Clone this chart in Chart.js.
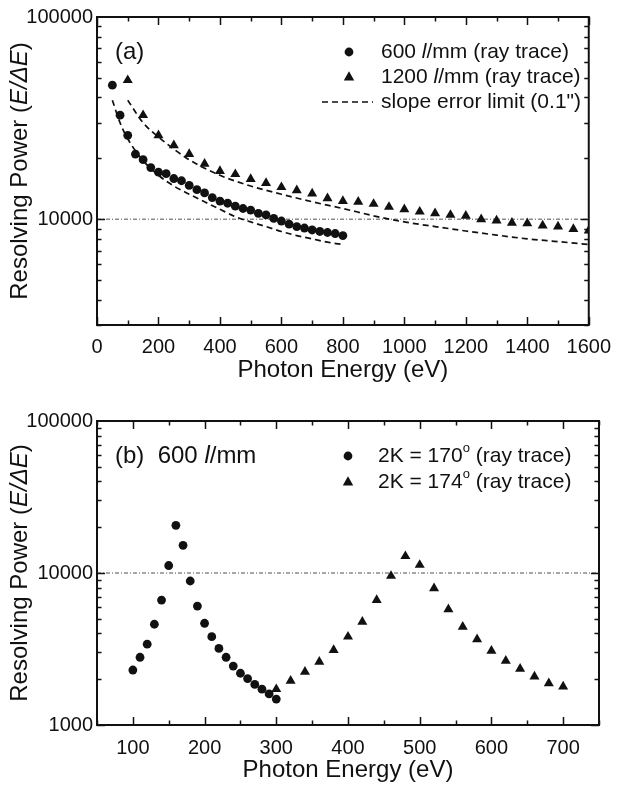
<!DOCTYPE html>
<html>
<head>
<meta charset="utf-8">
<script src="https://cdn.jsdelivr.net/npm/chart.js@4.4.1/dist/chart.umd.min.js"></script>
<style>
  html, body { margin: 0; padding: 0; background: #fff; }
  canvas { position: absolute; left: 0; }
  #chartA { top: 0; }
  #chartB { top: 395px; }
</style>
</head>
<body>
<canvas id="chartA" width="621" height="395"></canvas>
<canvas id="chartB" width="621" height="394"></canvas>
<script>
// ---- panel (a) ----
const energy600 = [50, 75, 100, 125, 150, 175, 200, 225, 250, 275, 300, 325, 350, 375, 400, 425,
                   450, 475, 500, 525, 550, 575, 600, 625, 650, 675, 700, 725, 750, 775, 800];
const power600 = [46000, 32700, 26000, 21000, 19700, 18000, 17100, 16800, 15900, 15500, 14700, 14000,
                  13500, 12800, 12300, 12000, 11600, 11300, 11100, 10700, 10500, 10100, 9800, 9450,
                  9200, 9050, 8850, 8700, 8600, 8500, 8300];
const energy1200 = [100, 150, 200, 250, 300, 350, 400, 450, 500, 550, 600, 650, 700, 750, 800, 850,
                    900, 950, 1000, 1050, 1100, 1150, 1200, 1250, 1300, 1350, 1400, 1450, 1500, 1550, 1600];
const power1200 = [48700, 32700, 26000, 23200, 21000, 18800, 17300, 16700, 15800, 15100, 14400, 13900,
                   13400, 12700, 12300, 12200, 11900, 11500, 11200, 10900, 10700, 10500, 10400, 10000,
                   9850, 9600, 9550, 9300, 9200, 8950, 8800];
const limitEnergy600 = [50, 75, 100, 150, 200, 250, 300, 350, 400, 450, 500, 550, 600, 650, 700, 750, 800];
const limit600 = [38800, 30000, 25000, 19500, 16500, 14600, 13300, 12200, 11200, 10300, 9700, 9200,
                  8700, 8300, 8000, 7700, 7500];
const limitEnergy1200 = [100, 150, 200, 300, 400, 500, 600, 700, 800, 900, 1000, 1100, 1200, 1300, 1400, 1500, 1600];
const limit1200 = [38800, 30000, 25500, 19700, 16500, 14600, 13300, 12200, 11300, 10400, 9700, 9200,
                   8750, 8350, 8000, 7750, 7500];
const xTicksA = [0, 200, 400, 600, 800, 1000, 1200, 1400, 1600];
const yTicksA = [10000, 100000];

// ---- panel (b) ----
const energy170 = [100, 110, 120, 130, 140, 150, 160, 170, 180, 190, 200, 210, 220, 230, 240, 250,
                   260, 270, 280, 290, 300];
const power170 = [2300, 2790, 3400, 4600, 6640, 11200, 20600, 15200, 8860, 6060, 4670, 3810, 3190,
                  2790, 2440, 2190, 2020, 1850, 1720, 1600, 1480];
const energy174 = [300, 320, 340, 360, 380, 400, 420, 440, 460, 480, 500, 520, 540, 560, 580, 600,
                   620, 640, 660, 680, 700];
const power174 = [1720, 1950, 2240, 2600, 3110, 3810, 4780, 6640, 9560, 12900, 11300, 7930, 5770,
                  4430, 3660, 3080, 2640, 2340, 2080, 1880, 1790];
const xTicksB = [100, 200, 300, 400, 500, 600, 700];
const yTicksB = [1000, 10000, 100000];

const FONT = '"Liberation Sans", Arial, Helvetica, sans-serif';
const INK = '#111';

function pts(xs, ys) {
  return xs.map((x, i) => ({ x: x, y: ys[i] }));
}

// write a run of [text, style] pieces; style: '' | 'i' | 'sup'
function drawRich(ctx, parts, x, y, size) {
  let cx = x;
  parts.forEach(([t, st]) => {
    if (st === 'sup') {
      ctx.font = Math.round(size * 0.6) + 'px ' + FONT;
      ctx.fillText(t, cx, y - size * 0.38);
    } else {
      ctx.font = (st === 'i' ? 'italic ' : '') + size + 'px ' + FONT;
      ctx.fillText(t, cx, y);
    }
    cx += ctx.measureText(t).width;
  });
  return cx - x;
}

function richWidth(ctx, parts, size) {
  let w = 0;
  parts.forEach(([t, st]) => {
    if (st === 'sup') ctx.font = Math.round(size * 0.6) + 'px ' + FONT;
    else ctx.font = (st === 'i' ? 'italic ' : '') + size + 'px ' + FONT;
    w += ctx.measureText(t).width;
  });
  return w;
}

function framePlugin(cfg) {
  return {
    id: 'frame',
    afterDraw(chart) {
      const ctx = chart.ctx;
      const a = chart.chartArea;
      const xs = chart.scales.x, ys = chart.scales.y;
      ctx.save();
      ctx.strokeStyle = INK;
      ctx.fillStyle = INK;

      // inward ticks, all four sides
      ctx.lineWidth = 1.5;
      ctx.beginPath();
      for (let v = xs.min; v <= xs.max + 1e-6; v += cfg.xMinor) {
        const px = Math.round(xs.getPixelForValue(v)) + 0.5;
        const len = Math.abs(v % cfg.xMajor) < 1e-6 ? 8 : 4.5;
        ctx.moveTo(px, a.bottom); ctx.lineTo(px, a.bottom - len);
        ctx.moveTo(px, a.top); ctx.lineTo(px, a.top + len);
      }
      for (let d = 1000; d < ys.max; d *= 10) {
        for (let k = 1; k <= 9; k++) {
          const v = d * k;
          if (v < ys.min || v > ys.max) continue;
          const py = Math.round(ys.getPixelForValue(v)) + 0.5;
          const len = k === 1 ? 8 : 4.5;
          ctx.moveTo(a.left, py); ctx.lineTo(a.left + len, py);
          ctx.moveTo(a.right, py); ctx.lineTo(a.right - len, py);
        }
      }
      ctx.stroke();

      // frame
      ctx.lineWidth = 2;
      ctx.strokeRect(a.left, a.top, a.right - a.left, a.bottom - a.top);

      // x title
      ctx.textAlign = 'center';
      ctx.textBaseline = 'middle';
      ctx.font = '24px ' + FONT;
      ctx.fillText('Photon Energy (eV)', (a.left + a.right) / 2, a.bottom + cfg.xTitleOffset);

      // y title (rotated, italic E/ΔE)
      const yParts = [['Resolving Power (', ''], ['E/\u0394E', 'i'], [')', '']];
      ctx.save();
      ctx.translate(20, (a.top + a.bottom) / 2);
      ctx.rotate(-Math.PI / 2);
      ctx.textAlign = 'left';
      const w = richWidth(ctx, yParts, 24);
      drawRich(ctx, yParts, -w / 2, 0, 24);
      ctx.restore();

      // panel label
      ctx.textAlign = 'left';
      ctx.textBaseline = 'middle';
      drawRich(ctx, cfg.label, a.left + 18, a.top + 35, 24);

      // legend
      cfg.legend.forEach((item, i) => {
        const ly = a.top + 35 + i * cfg.legendStep;
        const mx = cfg.legendX;
        ctx.beginPath();
        if (item.mark === 'circle') {
          ctx.arc(mx, ly, 4.4, 0, Math.PI * 2);
          ctx.fill();
        } else if (item.mark === 'triangle') {
          ctx.moveTo(mx, ly - 5.8);
          ctx.lineTo(mx + 5.2, ly + 3.6);
          ctx.lineTo(mx - 5.2, ly + 3.6);
          ctx.closePath();
          ctx.fill();
        } else {
          ctx.lineWidth = 1.7;
          ctx.setLineDash([6, 4]);
          ctx.moveTo(mx - 27, ly);
          ctx.lineTo(mx + 24, ly);
          ctx.stroke();
          ctx.setLineDash([]);
        }
        drawRich(ctx, item.text, cfg.legendTextX, ly, 21);
      });
      ctx.restore();
    }
  };
}

function scatterSet(data, style, radius) {
  return {
    data: data,
    showLine: false,
    pointStyle: style,
    pointRadius: radius,
    pointBorderWidth: 0,
    pointBackgroundColor: INK,
    borderColor: INK,
    order: 0
  };
}

function dashedSet(data) {
  return {
    data: data,
    showLine: true,
    borderColor: INK,
    borderWidth: 1.7,
    borderDash: [6, 4],
    pointRadius: 0,
    cubicInterpolationMode: 'monotone',
    order: 1
  };
}

function refLine(x0, x1) {
  return {
    data: [{ x: x0, y: 10000 }, { x: x1, y: 10000 }],
    showLine: true,
    borderColor: '#8a8a8a',
    borderWidth: 1.4,
    borderDash: [4, 2, 1, 2],
    pointRadius: 0,
    order: 5
  };
}

function makeChart(id, o) {
  return new Chart(document.getElementById(id), {
    type: 'scatter',
    data: { datasets: o.datasets },
    options: {
      responsive: false,
      animation: false,
      layout: { padding: { top: o.padTop, right: 22, left: 0, bottom: 0 } },
      plugins: { legend: { display: false }, tooltip: { enabled: false } },
      scales: {
        x: {
          type: 'linear', min: o.xMin, max: o.xMax,
          grid: { display: false, drawTicks: false },
          border: { display: false },
          afterBuildTicks: s => { s.ticks = o.xTicks.map(v => ({ value: v })); },
          afterFit: s => { s.height = o.xHeight; },
          ticks: { color: INK, padding: o.xPad, maxRotation: 0, font: { family: FONT, size: 20 },
                   callback: v => String(v) }
        },
        y: {
          type: 'logarithmic', min: o.yMin, max: 100000,
          grid: { display: false, drawTicks: false },
          border: { display: false },
          afterBuildTicks: s => { s.ticks = o.yTicks.map(v => ({ value: v })); },
          afterFit: s => { s.width = 97; },
          ticks: { color: INK, padding: 4, font: { family: FONT, size: 20 },
                   callback: v => String(v) }
        }
      }
    },
    plugins: [framePlugin(o.frame)]
  });
}

makeChart('chartA', {
  padTop: 17, xHeight: 70, xPad: 10,
  xMin: 0, xMax: 1600, yMin: 3000,
  xTicks: xTicksA, yTicks: yTicksA,
  datasets: [
    refLine(0, 1600),
    dashedSet(pts(limitEnergy600, limit600)),
    dashedSet(pts(limitEnergy1200, limit1200)),
    scatterSet(pts(energy600, power600), 'circle', 4.4),
    scatterSet(pts(energy1200, power1200), 'triangle', 5.8)
  ],
  frame: {
    xMinor: 100, xMajor: 200, xTitleOffset: 45,
    label: [['(a)', '']],
    legendX: 349, legendTextX: 381, legendStep: 25,
    legend: [
      { mark: 'circle', text: [['600 ', ''], ['l', 'i'], ['/mm (ray trace)', '']] },
      { mark: 'triangle', text: [['1200 ', ''], ['l', 'i'], ['/mm (ray trace)', '']] },
      { mark: 'dash', text: [['slope error limit (0.1")', '']] }
    ]
  }
});

makeChart('chartB', {
  padTop: 26, xHeight: 64, xPad: 11,
  xMin: 50, xMax: 750, yMin: 1000,
  xTicks: xTicksB, yTicks: yTicksB,
  datasets: [
    refLine(50, 750),
    scatterSet(pts(energy170, power170), 'circle', 4.4),
    scatterSet(pts(energy174, power174), 'triangle', 5.8)
  ],
  frame: {
    xMinor: 50, xMajor: 100, xTitleOffset: 45,
    label: [['(b)  600 ', ''], ['l', 'i'], ['/mm', '']],
    legendX: 348, legendTextX: 378, legendStep: 26,
    legend: [
      { mark: 'circle', text: [['2K = 170', ''], ['o', 'sup'], [' (ray trace)', '']] },
      { mark: 'triangle', text: [['2K = 174', ''], ['o', 'sup'], [' (ray trace)', '']] }
    ]
  }
});
</script>
</body>
</html>
